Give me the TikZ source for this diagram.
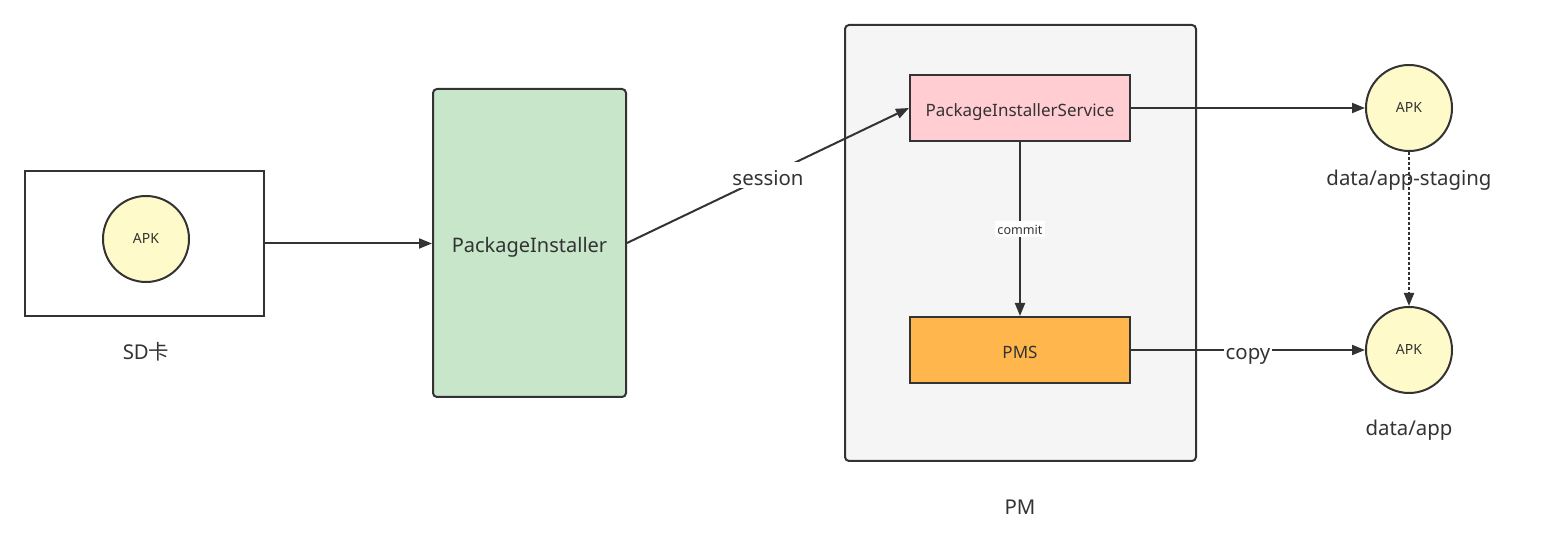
\documentclass[tikz,border=0pt]{standalone}
\usepackage{fontspec}
\setmainfont{Noto Sans}
\newfontfamily\cjk{Noto Sans CJK SC}
\usetikzlibrary{arrows.meta,positioning}
\definecolor{linegray}{HTML}{333333}
\definecolor{apkyellow}{HTML}{FFFACA}
\definecolor{greenfill}{HTML}{C8E6C9}
\definecolor{pinkfill}{HTML}{FFCDD2}
\definecolor{orangefill}{HTML}{FFB74D}
\definecolor{pmgray}{HTML}{F5F5F5}
\begin{document}
\begin{tikzpicture}[x=0.5pt,y=-0.5pt,
	box/.style={draw=linegray,line width=1pt,inner sep=0pt,text=linegray},
	apk/.style={circle,draw=linegray,line width=1pt,fill=apkyellow,minimum size=43pt,inner sep=0pt,text=linegray,
		font=\fontsize{7}{8}\selectfont,text height=5pt,text depth=0pt},
	link/.style={draw=linegray,line width=1pt,-{Triangle[length=6.5pt,width=5pt]}},
	tag/.style={text=linegray,font=\fontsize{10.2}{12}\selectfont,text height=10.5pt,text depth=0.5pt},
	boxtext/.style={font=\fontsize{8.5}{10}\selectfont,text height=8.8pt,text depth=0.4pt},
	small/.style={text=linegray,font=\fontsize{6.3}{7}\selectfont,text height=6pt,text depth=0.3pt}]
	\useasboundingbox (0,0) rectangle (1542,549);
	% left part
	\node[box,fill=white,minimum width=119.5pt,minimum height=72.5pt] (sdcard) at (144.5,243.5) {};
	\node[apk] (apksd) at (146,239) {APK};
	\node[tag] (sdlabel) at (146,350) {SD{\cjk 卡}};
	\node[box,fill=greenfill,rounded corners=2pt,minimum width=96.5pt,minimum height=154pt,
		font=\fontsize{10}{12}\selectfont,text height=10.5pt,text depth=0.5pt] (installer) at (529.5,243) {PackageInstaller};
	% PM
	\node[box,fill=pmgray,rounded corners=2pt,minimum width=175.5pt,minimum height=218pt] (pm) at (1020.5,243) {};
	\node[tag] (pmlabel) at (1020,505) {PM};
	\node[box,boxtext,fill=pinkfill,minimum width=110pt,minimum height=33pt] (service) at (1020,108) {PackageInstallerService};
	\node[box,boxtext,fill=orangefill,minimum width=110pt,minimum height=33pt] (pms) at (1020,350) {PMS};
	% right part
	\foreach \coordonnees/\nom/\dossier/\decal in
	{{(1409,108)}/staging/{data/app-staging}/68,
	{(1409,350)}/app/{data/app}/76}
		{\node[apk] (\nom) at \coordonnees {APK};
		\node[tag] (\nom label) at ([yshift=-\decal*0.5pt]\nom) {\dossier};}
	% connectors
	\draw[link] (sdcard.east) -- (sdcard.east -| installer.west);
	\draw[link] (installer.east) -- node[tag,fill=white,inner sep=1pt] {session} (service.west);
	\draw[link] (service) -- node[small,fill=white,inner sep=1pt] {commit} (pms);
	\draw[link] (service) -- (staging);
	\draw[link] (pms) -- node[tag,fill=white,inner sep=1pt] {copy} (app);
	\draw[link,dash pattern=on 1.5pt off 1pt] (staging) -- (app);
\end{tikzpicture}
\end{document}
